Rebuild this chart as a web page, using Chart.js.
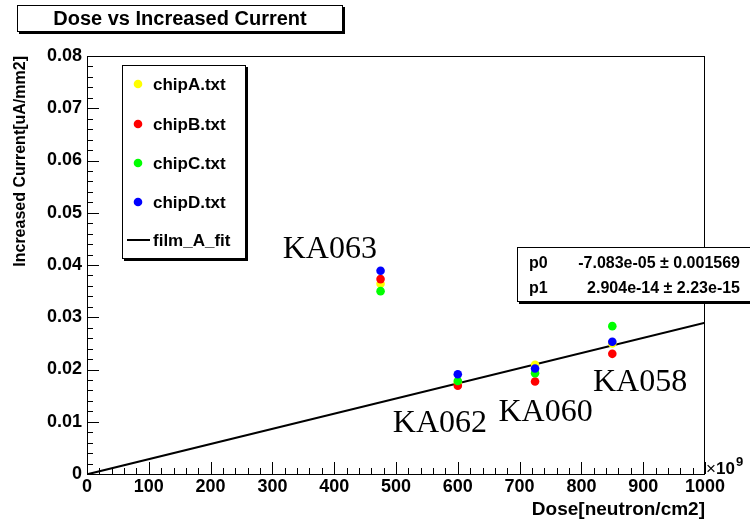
<!DOCTYPE html>
<html>
<head>
<meta charset="utf-8">
<script src="https://cdn.jsdelivr.net/npm/chart.js@4/dist/chart.umd.min.js"></script>
<style>
  html, body { margin: 0; padding: 0; background: #ffffff; }
  #wrap { width: 750px; height: 522px; }
</style>
</head>
<body>
<div id="wrap"><canvas id="c" width="750" height="522"></canvas></div>
<script>
// Dose in units of 10^9 neutron/cm2
const doses = [475, 600, 725, 850];
const sampleNames = ['KA063', 'KA062', 'KA060', 'KA058'];

// Increased current [uA/mm2] per chip
const chipA = [0.0364, 0.0175, 0.0209, 0.0250];
const chipB = [0.0373, 0.0169, 0.0177, 0.0230];
const chipC = [0.0350, 0.0178, 0.0193, 0.0283];
const chipD = [0.0389, 0.0191, 0.0202, 0.0253];
const seriesNames = ['chipA.txt', 'chipB.txt', 'chipC.txt', 'chipD.txt'];
const seriesColors = ['#ffff00', '#ff0000', '#00ff00', '#0000ff'];

// Linear fit y = p0 + p1 * dose (dose in neutron/cm2)
const fitName = 'film_A_fit';
const fitP0 = -7.083e-05, fitP0Err = 0.001569;
const fitP1 = 2.904e-14, fitP1Err = 2.23e-15;
const fitRange = [0, 1000];          // in 10^9 neutron/cm2
const doseUnit = 1e9;

// Axis ticks
const xTickValues = [0, 100, 200, 300, 400, 500, 600, 700, 800, 900, 1000];
const xTickLabels = ['0', '100', '200', '300', '400', '500', '600', '700', '800', '900', '1000'];
const yTickValues = [0, 0.01, 0.02, 0.03, 0.04, 0.05, 0.06, 0.07, 0.08];
const yTickLabels = ['0', '0.01', '0.02', '0.03', '0.04', '0.05', '0.06', '0.07', '0.08'];

// Where each sample name is written (dose, current)
const sampleLabelAt = [[393, 0.0429], [571, 0.0096], [742, 0.0118], [895, 0.0174]];

const SANS = '"Liberation Sans", Arial, Helvetica, sans-serif';
const SERIF = '"Liberation Serif", "Times New Roman", serif';

function fmtG(v, p) {
  if (v === 0) return '0';
  const e = Math.floor(Math.log10(Math.abs(v)));
  if (e < -4 || e >= p) {
    let [m, ex] = v.toExponential(p - 1).split('e');
    if (m.indexOf('.') >= 0) m = m.replace(/0+$/, '').replace(/\.$/, '');
    const n = parseInt(ex, 10);
    return m + 'e' + (n < 0 ? '-' : '+') + String(Math.abs(n)).padStart(2, '0');
  }
  return parseFloat(v.toPrecision(p)).toString();
}

const chipSeries = [chipA, chipB, chipC, chipD];
const datasets = chipSeries.map((vals, i) => ({
  type: 'scatter',
  label: seriesNames[i],
  data: doses.map((d, k) => ({ x: d, y: vals[k] })),
  backgroundColor: seriesColors[i],
  borderColor: seriesColors[i],
  borderWidth: 0,
  pointRadius: 4.3,
  pointHoverRadius: 4.3,
  order: 4 - i
}));
datasets.push({
  type: 'line',
  label: fitName,
  data: fitRange.map(d => ({ x: d, y: fitP0 + fitP1 * d * doseUnit })),
  borderColor: '#000000',
  borderWidth: 2,
  pointRadius: 0,
  fill: false,
  tension: 0,
  order: 10
});

function box(ctx, x, y, w, h, shadow) {
  ctx.save();
  if (shadow) {
    ctx.fillStyle = '#000000';
    ctx.fillRect(x + shadow, y + shadow, w, h);
  }
  ctx.fillStyle = '#ffffff';
  ctx.fillRect(x, y, w, h);
  ctx.strokeStyle = '#000000';
  ctx.lineWidth = 1;
  ctx.strokeRect(x + 0.5, y + 0.5, w - 1, h - 1);
  ctx.restore();
}

const frameAndTicks = {
  id: 'frameAndTicks',
  beforeDatasetsDraw(chart) {
    const { ctx, chartArea: a, scales: { x, y } } = chart;
    ctx.save();
    ctx.strokeStyle = '#000000';
    ctx.lineWidth = 1;
    ctx.strokeRect(Math.round(a.left) + 0.5, Math.round(a.top) + 0.5,
                   Math.round(a.right - a.left) - 1, Math.round(a.bottom - a.top));
    ctx.beginPath();
    // x ticks: major every 100, minor every 20, pointing up into the frame
    for (let v = x.min; v <= x.max + 1e-9; v += 20) {
      const px = Math.round(x.getPixelForValue(v)) + 0.5;
      const len = (Math.round(v) % 100 === 0) ? 12 : 6;
      ctx.moveTo(px, a.bottom);
      ctx.lineTo(px, a.bottom - len);
    }
    // y ticks: major every 0.01, minor every 0.002, pointing right into the frame
    for (let k = 0; k <= 40; k++) {
      const v = k * 0.002;
      const py = Math.round(y.getPixelForValue(v)) + 0.5;
      const len = (k % 5 === 0) ? 12 : 6;
      ctx.moveTo(a.left, py);
      ctx.lineTo(a.left + len, py);
    }
    ctx.stroke();
    ctx.restore();
  },
  afterDraw(chart) {
    const { ctx, chartArea: a, scales: { x, y } } = chart;
    ctx.save();

    // sample names
    ctx.fillStyle = '#000000';
    ctx.font = '32px ' + SERIF;
    ctx.textAlign = 'center';
    ctx.textBaseline = 'middle';
    sampleNames.forEach((name, i) => {
      const [dx, dy] = sampleLabelAt[i];
      ctx.fillText(name, x.getPixelForValue(dx), y.getPixelForValue(dy));
    });

    // exponent of the dose axis
    ctx.textAlign = 'left';
    ctx.textBaseline = 'alphabetic';
    ctx.font = '17px ' + SANS;
    ctx.fillText('\u00D7', a.right + 1, a.bottom);
    ctx.font = 'bold 17px ' + SANS;
    ctx.fillText('10', a.right + 11, a.bottom);
    ctx.font = 'bold 13px ' + SANS;
    ctx.fillText('9', a.right + 31, a.bottom - 8);

    // legend
    box(ctx, 122, 65, 124, 194, 2);
    ctx.font = 'bold 17px ' + SANS;
    ctx.textBaseline = 'middle';
    const rows = [84, 124, 163, 202, 240];
    chart.data.datasets.forEach((ds, i) => {
      const ry = rows[i];
      if (ds.type === 'line') {
        ctx.strokeStyle = ds.borderColor;
        ctx.lineWidth = 2;
        ctx.beginPath();
        ctx.moveTo(127, ry);
        ctx.lineTo(150, ry);
        ctx.stroke();
      } else {
        ctx.fillStyle = ds.backgroundColor;
        ctx.beginPath();
        ctx.arc(138, ry, 4.3, 0, Math.PI * 2);
        ctx.fill();
      }
      ctx.fillStyle = '#000000';
      ctx.fillText(ds.label, 153, ry + 1);
    });

    // fit parameters
    box(ctx, 517, 247, 250, 55, 2);
    ctx.font = 'bold 16px ' + SANS;
    ctx.fillStyle = '#000000';
    ctx.textAlign = 'left';
    ctx.fillText('p0', 529, 264);
    ctx.fillText('p1', 529, 289);
    ctx.textAlign = 'right';
    ctx.fillText(fmtG(fitP0, 4) + ' \u00B1 ' + fmtG(fitP0Err, 4), 740, 264);
    ctx.fillText(fmtG(fitP1, 4) + ' \u00B1 ' + fmtG(fitP1Err, 4), 740, 289);

    // title
    box(ctx, 17, 5, 326, 27, 2);
    ctx.font = 'bold 20px ' + SANS;
    ctx.textAlign = 'center';
    ctx.fillText('Dose vs Increased Current', 180, 19);

    ctx.restore();
  }
};

const whiteBg = {
  id: 'whiteBg',
  beforeDraw(chart) {
    const { ctx, width, height } = chart;
    ctx.save();
    ctx.fillStyle = '#ffffff';
    ctx.fillRect(0, 0, width, height);
    ctx.restore();
  }
};

new Chart(document.getElementById('c'), {
  type: 'scatter',
  data: { datasets },
  options: {
    responsive: false,
    animation: false,
    devicePixelRatio: 1,
    layout: { padding: { top: 56, right: 45, left: 0, bottom: 0 } },
    plugins: {
      legend: { display: false },
      tooltip: { enabled: false },
      title: { display: false }
    },
    scales: {
      x: {
        type: 'linear',
        min: 0,
        max: 1000,
        afterFit(s) { s.height = 48; },
        afterBuildTicks(s) { s.ticks = xTickValues.map(v => ({ value: v })); },
        grid: { display: false, drawTicks: false },
        border: { display: false },
        ticks: {
          color: '#000000',
          font: { family: SANS, size: 18, weight: 'bold' },
          padding: 2,
          maxRotation: 0,
          autoSkip: false,
          callback: (v, i) => xTickLabels[i]
        },
        title: {
          display: true,
          text: 'Dose[neutron/cm2]',
          align: 'end',
          color: '#000000',
          font: { family: SANS, size: 19, weight: 'bold' },
          padding: { top: 0, bottom: 1 }
        }
      },
      y: {
        type: 'linear',
        min: 0,
        max: 0.08,
        afterFit(s) { s.width = 87; },
        afterBuildTicks(s) { s.ticks = yTickValues.map(v => ({ value: v })); },
        grid: { display: false, drawTicks: false },
        border: { display: false },
        ticks: {
          color: '#000000',
          font: { family: SANS, size: 18, weight: 'bold' },
          padding: 5,
          autoSkip: false,
          callback: (v, i) => yTickLabels[i]
        },
        title: {
          display: true,
          text: 'Increased Current[uA/mm2]',
          align: 'end',
          color: '#000000',
          font: { family: SANS, size: 16, weight: 'bold' },
          padding: { top: 11, bottom: 0 }
        }
      }
    }
  },
  plugins: [whiteBg, frameAndTicks]
});
</script>
</body>
</html>
